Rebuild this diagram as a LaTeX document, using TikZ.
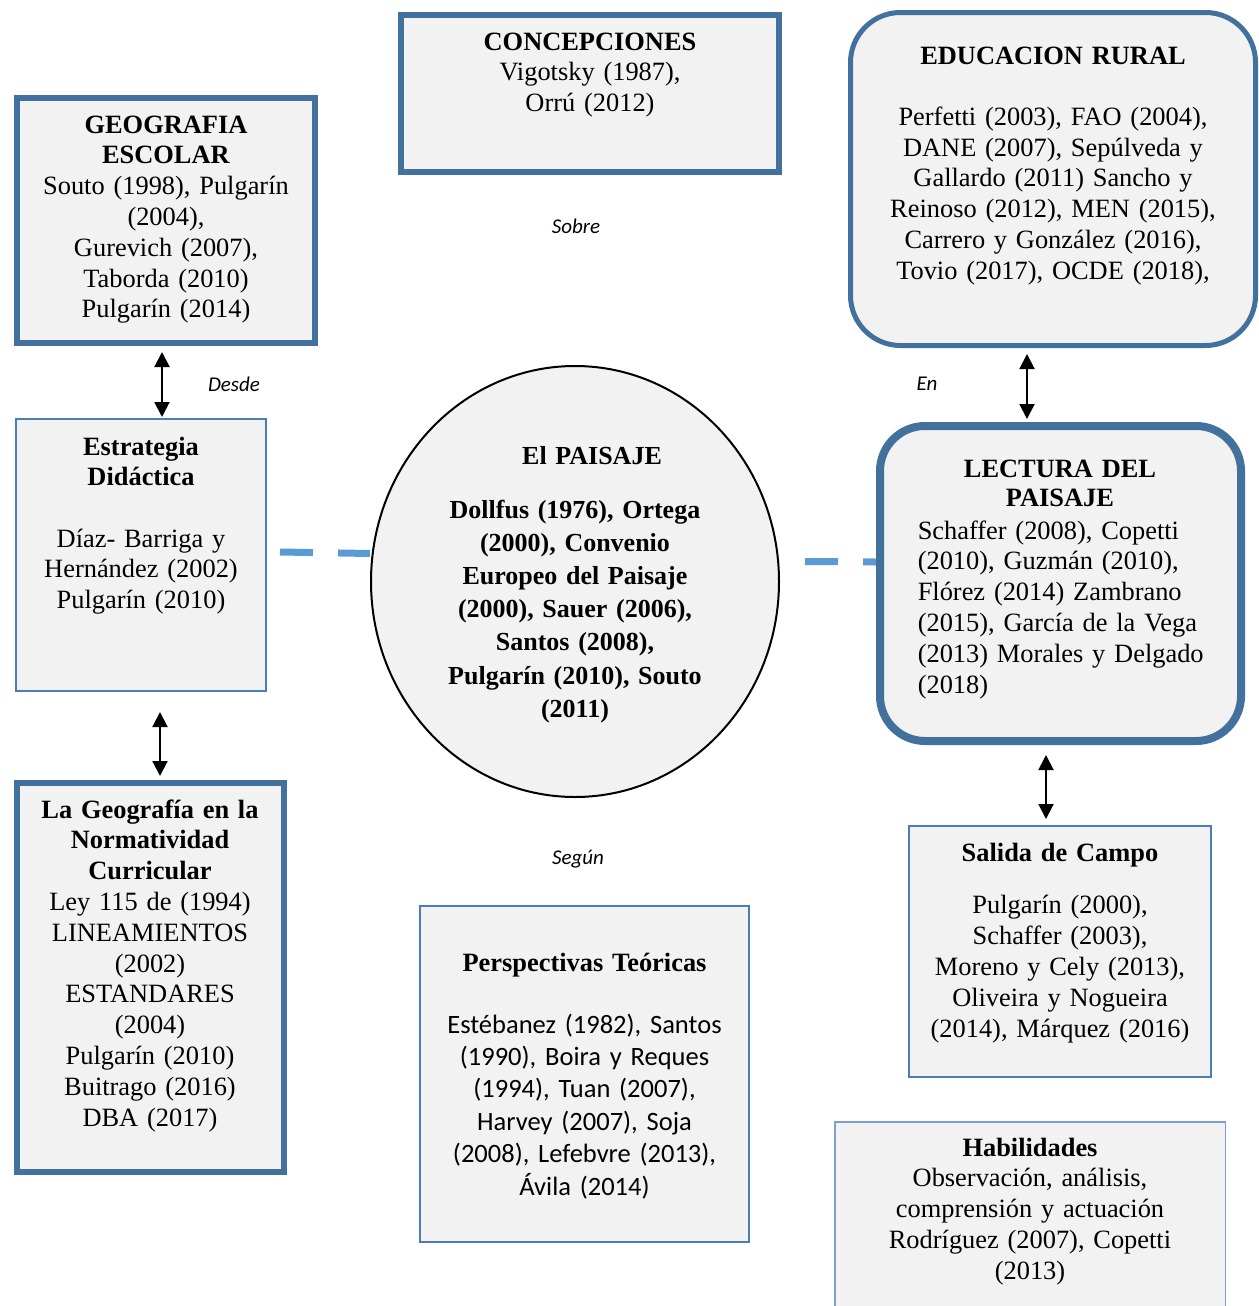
\documentclass[tikz,border=0pt]{standalone}
\usepackage{fontspec}
\setmainfont{Liberation Serif}
\newfontfamily\calibri{Carlito}
\usepackage{tikz}
\usetikzlibrary{arrows.meta,shapes.geometric}
\definecolor{azul}{HTML}{41719C}
\definecolor{azulclaro}{HTML}{4A7EBB}
\definecolor{azulpalido}{HTML}{7F9FCF}
\definecolor{fondo}{HTML}{F2F2F2}
\definecolor{guion}{HTML}{5B9BD5}
\tikzset{every picture/.style={line width=0.75pt}}

\begin{document}
\begin{tikzpicture}[x=0.5pt,y=-0.5pt,
  caja/.style={draw=azul,fill=fondo,line width=3pt,inner sep=0pt},
  cajafina/.style={draw=azulclaro,fill=fondo,line width=1pt,inner sep=0pt},
  texto/.style={align=center,inner sep=0pt,anchor=base,font=\fontsize{13.2}{15.4}\selectfont},
  flecha/.style={{Triangle[width=7.5pt,length=7.5pt]}-{Triangle[width=7.5pt,length=7.5pt]},line width=1pt},
  guiones/.style={draw=guion,line width=3.5pt,dash pattern=on 16.5pt off 12.5pt},
  rotulo/.style={font=\calibri\itshape\fontsize{10.5}{12}\selectfont,inner sep=0pt}]
\useasboundingbox (0,0) rectangle (1258,1306);
\clip (0,0) rectangle (1258,1306);
%
\node[caja,minimum width=149pt,minimum height=122.5pt] (geo) at (166,220.5) {};
\node[caja,minimum width=189pt,minimum height=78.5pt] (concep) at (590,93.5) {};
\node[caja,line width=2.5pt,rounded corners=25pt,minimum width=202.5pt,minimum height=166.5pt] (educ) at (1053,179) {};
\node[cajafina,minimum width=125pt,minimum height=136pt] (estr) at (141,555) {};
\node[ellipse,draw=black,fill=fondo,line width=1pt,inner sep=0pt,minimum width=204pt,minimum height=215.5pt] (paisaje) at (575,581.5) {};
\node[caja,line width=4pt,rounded corners=22.5pt,minimum width=180.5pt,minimum height=157.5pt] (lect) at (1060.5,583.5) {};
\node[caja,minimum width=133.5pt,minimum height=194.5pt] (norm) at (150.5,977.5) {};
\node[cajafina,minimum width=164.5pt,minimum height=168pt] (persp) at (584.5,1074) {};
\node[cajafina,minimum width=151pt,minimum height=125.5pt] (salida) at (1060,951.5) {};
\node[cajafina,draw=azulpalido,line width=0.75pt,minimum width=195.25pt,minimum height=109pt] (habil) at (1030,1231) {};
%
\node[texto,text width=148pt] (geotxt) at (166,133) {\textbf{GEOGRAFIA}\\\textbf{ESCOLAR}\\Souto (1998), Pulgarín\\(2004),\\Gurevich (2007),\\Taborda (2010)\\Pulgarín (2014)};
\node[texto,text width=185pt] (concetxt) at (590,50) {\textbf{CONCEPCIONES}\\Vigotsky (1987),\\Orrú (2012)};
\node[texto,text width=198pt] (eductxt) at (1053,64) {\textbf{EDUCACION RURAL}\\[15.2pt]Perfetti (2003), FAO (2004),\\DANE (2007), Sepúlveda y\\Gallardo (2011) Sancho y\\Reinoso (2012), MEN (2015),\\Carrero y González (2016),\\Tovio (2017), OCDE (2018),};
\node[texto,text width=122pt] (estrtxt) at (141,455) {\textbf{Estrategia}\\\textbf{Didáctica}\\[15.2pt]Díaz- Barriga y\\Hernández (2002)\\Pulgarín (2010)};
\node[texto,text width=160pt,font=\bfseries\fontsize{13}{16.6}\selectfont] (paistxt) at (575,464) {\hspace*{17pt}El PAISAJE\\[10.4pt]Dollfus (1976), Ortega\\(2000), Convenio\\Europeo del Paisaje\\(2000), Sauer (2006),\\Santos (2008),\\Pulgarín (2010), Souto\\(2011)};
\node[texto,text width=170pt,font=\bfseries\fontsize{13.2}{14.6}\selectfont] (lecttit) at (1060,477) {LECTURA DEL\\PAISAJE};
\node[texto,anchor=base west,align=left,text width=160pt] (lecttxt) at (917,539) {Schaffer (2008), Copetti\\(2010), Guzmán (2010),\\Flórez (2014) Zambrano\\(2015), García de la Vega\\(2013) Morales y Delgado\\(2018)};
\node[texto,text width=130pt] (normtxt) at (150,818) {\textbf{La Geografía en la}\\\textbf{Normatividad}\\\textbf{Curricular}\\Ley 115 de (1994)\\LINEAMIENTOS\\(2002)\\ESTANDARES\\(2004)\\Pulgarín (2010)\\Buitrago (2016)\\DBA (2017)};
\node[texto,text width=160pt] (persptit) at (584.5,971) {\textbf{Perspectivas Teóricas}};
\node[texto,text width=160pt,font=\calibri\fontsize{13.25}{16.2}\selectfont] (persptxt) at (584.5,1033) {Estébanez (1982), Santos\\(1990), Boira y Reques\\(1994), Tuan (2007),\\Harvey (2007), Soja\\(2008), Lefebvre (2013),\\Ávila (2014)};
\node[texto,text width=148pt] (saltxt) at (1060,861) {\textbf{Salida de Campo}\\[11pt]Pulgarín (2000),\\Schaffer (2003),\\Moreno y Cely (2013),\\Oliveira y Nogueira\\(2014), Márquez (2016)};
\node[texto,text width=190pt] (habtxt) at (1030,1156) {\textbf{Habilidades}\\Observación, análisis,\\comprensión y actuación\\Rodríguez (2007), Copetti\\(2013)};
%
\node[rotulo] (sobre) at (576,226) {Sobre};
\node[rotulo] (desde) at (234,384) {Desde};
\node[rotulo] (en) at (927,384) {En};
\node[rotulo] (segun) at (578,859) {Según};
%
\draw[flecha] ([shift={(-4,6)}]geo.south) -- ([shift={(21,-1)}]estr.north);
\draw[flecha] ([shift={(19,20)}]estr.south) -- ([shift={(9.5,-4)}]norm.north);
\draw[flecha] ([shift={(-26,6)}]educ.south) -- ([shift={(-33.5,-3)}]lect.north);
\draw[flecha] ([shift={(-14.5,10)}]lect.south) -- ([shift={(-14,-6)}]salida.north);
%
\draw[guiones] ([shift={(13,-3)}]estr.east) -- ([shift={(0,-28)}]paisaje.west);
\draw[guiones] ([shift={(25,-20)}]paisaje.east) -- ([shift={(0,-21.5)}]lect.west);
\end{tikzpicture}
\end{document}
